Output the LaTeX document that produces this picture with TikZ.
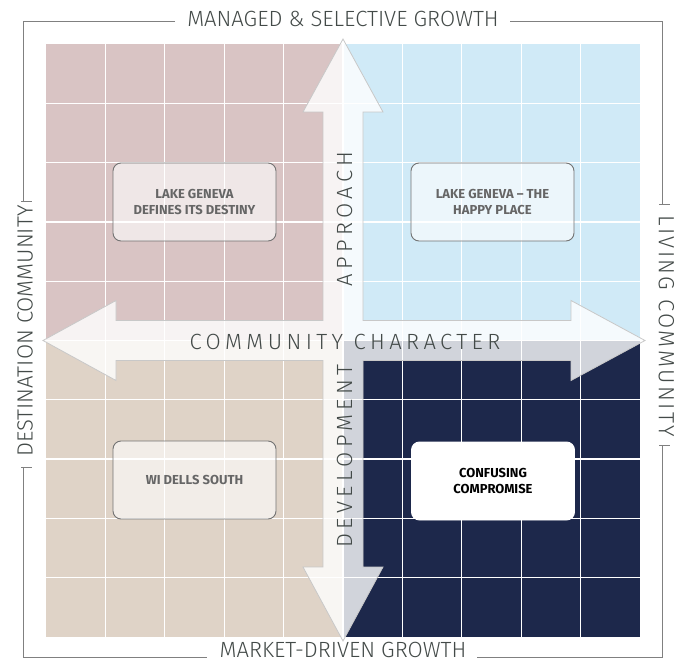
\documentclass[tikz,border=0pt]{standalone}
\usepackage{fontspec}
\setmainfont{Fira Sans}
\newfontfamily\lightfont{Fira Sans Light}
\definecolor{qpink}{HTML}{D9C4C4}
\definecolor{qblue}{HTML}{D0EAF7}
\definecolor{qbeige}{HTML}{DFD3C7}
\definecolor{qnavy}{HTML}{1D284B}
\definecolor{labelc}{HTML}{434A48}
\definecolor{framec}{HTML}{808080}
\definecolor{boxtext}{HTML}{666666}
\definecolor{arrowedge}{HTML}{C8C8C8}
\newcommand\myaxisfont{\lightfont\fontsize{22}{24}\selectfont}
\newcommand\mywideaxisfont{\lightfont\fontsize{22}{24}\selectfont\addfontfeatures{LetterSpace=11}}
\newcommand\mytrackfont{\lightfont\fontsize{22}{24}\selectfont\addfontfeatures{LetterSpace=20}}
\newcommand\myboxfont{\fontsize{13}{15.7}\selectfont\bfseries}
\begin{document}
\begin{tikzpicture}[x=1pt,y=-1pt,
  gridline/.style={white,line width=1.3pt},
  crossarrow/.style={fill=white,fill opacity=0.8,draw=arrowedge,line width=0.8pt},
  qbox/.style={rounded corners=8pt,draw=black!55,line width=0.9pt,fill=white,fill opacity=0.6,text opacity=1,
    minimum width=163pt,minimum height=78pt,align=center,font=\myboxfont,text=boxtext,inner sep=2pt},
  axislabel/.style={font=\myaxisfont,text=labelc,inner sep=0pt},
  tracklabel/.style={font=\mytrackfont,text=labelc,inner sep=0pt},
  frameline/.style={framec,line width=1pt}]
\useasboundingbox (0,0) rectangle (680,663);
% quadrants
\fill[qpink] (46,44) rectangle (343,340.5);
\fill[qblue] (343,44) rectangle (640,340.5);
\fill[qbeige] (46,340.5) rectangle (343,637);
\fill[qnavy] (343,340.5) rectangle (640,637);
\foreach \i in {1,...,9} {
  \draw[gridline] ({46+59.4*\i},44) -- ({46+59.4*\i},637);
  \draw[gridline] (46,{44+59.3*\i}) -- (640,{44+59.3*\i});
}
% cross arrows
\draw[crossarrow] (343,39) -- (383,112) -- (363,112) -- (363,320.5) -- (571,320.5) -- (571,300.5)
  -- (645,340.5) -- (571,380.5) -- (571,360.5) -- (363,360.5) -- (363,567) -- (383,567)
  -- (343,641) -- (303,567) -- (323,567) -- (323,360.5) -- (116,360.5) -- (116,380.5)
  -- (43,340.5) -- (116,300.5) -- (116,320.5) -- (323,320.5) -- (323,112) -- (303,112) -- cycle;
% arrow texts
\node[tracklabel] (cc) at (345,342) {COMMUNITY CHARACTER};
\node[tracklabel,rotate=90] (appr) at (344.5,219) {APPROACH};
\node[tracklabel,rotate=90] (dev) at (344.5,456) {DEVELOPMENT};
% boxes
\node[qbox] (ldd) at (194.5,202) {LAKE GENEVA\\DEFINES ITS DESTINY};
\node[qbox] (lhp) at (492.5,202) {LAKE GENEVA -- THE\\HAPPY PLACE};
\node[qbox] (wds) at (194.5,480) {WI DELLS SOUTH};
\node[qbox,fill opacity=1,draw=white,text=black] (cfc) at (493,481) {CONFUSING\\COMPROMISE};
% outer labels
\node[axislabel] (top) at (343,19) {MANAGED \& SELECTIVE GROWTH};
\node[axislabel] (bot) at (343,649.5) {MARKET-DRIVEN GROWTH};
\node[axislabel,rotate=90] (lft) at (25,331) {DESTINATION COMMUNITY};
\node[axislabel,rotate=-90,font=\mywideaxisfont] (rgt) at (666.5,326) {LIVING COMMUNITY};
% frame
\draw[frameline] (175,22) -- (23,22) -- (23,202);
\draw[frameline] (510,22) -- (662,22) -- (662,205);
\draw[frameline] (23,467) -- (23,657) -- (207,657);
\draw[frameline] (477,657) -- (662,657) -- (662,445);
\draw[frameline] (21,202) -- (32,202);
\draw[frameline] (21,467) -- (32,467);
\draw[frameline] (659,205) -- (670,205);
\draw[frameline] (659,445) -- (670,445);
\end{tikzpicture}
\end{document}
